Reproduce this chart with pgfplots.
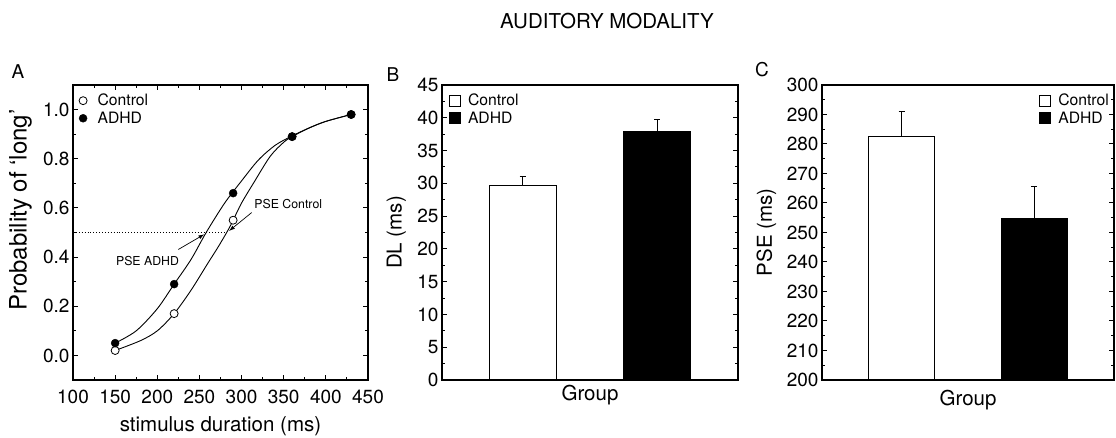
\documentclass[border=0pt]{standalone}
\usepackage{pgfplots}
\pgfplotsset{compat=1.18}
\usepackage{fontspec}
\setmainfont{TeX Gyre Heros}
\usetikzlibrary{arrows.meta}

\newcommand{\tickfont}{\fontsize{19}{21}\selectfont}
\newcommand{\labfont}{\fontsize{20.5}{23}\selectfont}
\newcommand{\legfont}{\fontsize{15.7}{18}\selectfont}
\newcommand{\annfont}{\fontsize{12.3}{14}\selectfont}

\pgfplotsset{
  common/.style={
    scale only axis,
    anchor=south west,
    height=295pt,
    axis line style={black, line width=1.2pt},
    tick style={black, line width=1pt},
    major tick length=5pt,
    minor tick length=3pt,
    tick align=inside,
    tick label style={font=\tickfont},
    /pgf/number format/assume math mode=true,
    label style={font=\labfont},
    legend cell align=left,
  },
  legcommon/.style={draw=none, fill=none, font=\legfont, row sep=1.5pt, inner sep=0pt,
    nodes={inner sep=1.5pt}, /tikz/every odd column/.append style={column sep=6pt}},
  barleg/.style={legend image code/.code={\draw[##1, line width=0.8pt] (0pt,-5.5pt) rectangle (11pt,5.5pt);}},
}

\begin{document}
\begin{tikzpicture}
\useasboundingbox (0pt,0pt) rectangle (1116pt,438pt);
\node[font=\labfont] at (607pt,417pt) {AUDITORY MODALITY};
\node[font=\tickfont] at (18pt,366pt) {A};
\node[font=\tickfont] at (393pt,363pt) {B};
\node[font=\tickfont] at (762pt,368pt) {C};

% ---------------- Panel A ----------------
\begin{axis}[common, name=pA, at={(73pt,58pt)}, width=295pt,
  xmin=100, xmax=450, ymin=-0.1, ymax=1.1,
  xtick={100,150,200,250,300,350,400,450}, minor x tick num=1,
  ytick={0,0.2,0.4,0.6,0.8,1.0}, minor y tick num=1,
  yticklabel style={/pgf/number format/.cd, fixed, fixed zerofill, precision=1},
  xticklabel style={anchor=base, yshift=-24pt},
  xlabel={stimulus duration (ms)},
  ylabel={Probability of `long'},
  xlabel style={at={(axis description cs:0.5,0)}, anchor=base, yshift=-51.7pt},
  ylabel style={at={(axis description cs:-0.157,0.576)}, anchor=base, font=\fontsize{24}{26}\selectfont},
  legend style={legcommon, at={(axis description cs:0.02,0.975)}, anchor=north west,
    /tikz/every odd column/.append style={column sep=9pt}},
  legend image code/.code={\draw[#1] plot coordinates {(4.5pt,0pt)};},
]
\addplot[black, dotted, line width=0.9pt, forget plot] coordinates {(100,0.5) (280,0.5)};
\addplot[black, line width=0.9pt, smooth, forget plot] coordinates {
(150,0.02) (180,0.06) (200,0.10) (220,0.17) (240,0.265) (260,0.375) (272,0.44) (284,0.51)
(290,0.55) (300,0.62) (314,0.70) (334,0.81) (350,0.867) (360,0.89) (380,0.925) (400,0.952) (430,0.98)};
\addplot[black, line width=0.9pt, smooth, forget plot] coordinates {
(150,0.05) (175,0.10) (200,0.19) (220,0.29) (240,0.39) (258,0.50) (280,0.62) (300,0.71)
(320,0.795) (340,0.855) (360,0.893) (380,0.925) (400,0.952) (430,0.98)};
\addplot[only marks, mark=*, mark size=4pt, mark options={fill=white, draw=black, line width=0.8pt}] coordinates {
(150,0.02) (220,0.17) (290,0.55) (360,0.89) (430,0.98)};
\addlegendentry{Control}
\addplot[only marks, mark=*, mark size=4pt, mark options={fill=black, draw=black}] coordinates {
(150,0.05) (220,0.29) (290,0.66) (360,0.89) (430,0.98)};
\addlegendentry{ADHD}
\draw[line width=0.7pt, -{Latex[length=6pt,width=4pt]}] (axis cs:225,0.431) -- (axis cs:256,0.493);
\draw[line width=0.7pt, -{Latex[length=6pt,width=4pt]}] (axis cs:312,0.581) -- (axis cs:285,0.506);
\node[font=\annfont] at (axis cs:188.4,0.384) {PSE ADHD};
\node[font=\annfont] at (axis cs:355.4,0.615) {PSE Control};
\end{axis}

% ---------------- Panel B ----------------
\begin{axis}[common, name=pB, at={(442pt,58pt)}, width=296pt,
  xmin=-0.6, xmax=1.6, ymin=0, ymax=45,
  xtick=\empty, ytick={0,5,...,45}, minor y tick num=1,
  xlabel={Group}, ylabel={DL (ms)},
  xlabel style={at={(axis description cs:0.5,0)}, anchor=base, yshift=-20.7pt},
  ylabel style={at={(axis description cs:-0.136,0.5)}, anchor=base},
  legend style={legcommon, at={(axis description cs:0.022,0.975)}, anchor=north west},
]
\addplot[ybar, bar width=0.5, bar shift=0pt, fill=white, draw=black, line width=0.9pt, barleg,
  error bars/.cd, y dir=plus, y explicit, error bar style={line width=0.8pt},
  error mark options={line width=0.8pt, mark size=3pt, rotate=90}]
  coordinates {(0,29.7) +- (0,1.3)};
\addlegendentry{Control}
\addplot[ybar, bar width=0.5, bar shift=0pt, fill=black, draw=black, line width=0.9pt, barleg,
  error bars/.cd, y dir=plus, y explicit, error bar style={line width=0.8pt},
  error mark options={line width=0.8pt, mark size=3pt, rotate=90}]
  coordinates {(1,37.85) +- (0,1.85)};
\addlegendentry{ADHD}
\end{axis}

% ---------------- Panel C ----------------
\begin{axis}[common, name=pC, at={(822pt,58pt)}, width=292pt,
  xmin=-0.6, xmax=1.6, ymin=200, ymax=300,
  xtick=\empty, ytick={200,210,...,300}, minor y tick num=1,
  xlabel={Group}, ylabel={PSE (ms)},
  xlabel style={at={(axis description cs:0.5,0)}, anchor=base, yshift=-26pt},
  ylabel style={at={(axis description cs:-0.172,0.5)}, anchor=base},
  legend style={legcommon, at={(axis description cs:0.988,0.975)}, anchor=north east},
]
\addplot[ybar, bar width=0.5, bar shift=0pt, fill=white, draw=black, line width=0.9pt, barleg,
  error bars/.cd, y dir=plus, y explicit, error bar style={line width=0.8pt},
  error mark options={line width=0.8pt, mark size=3pt, rotate=90}]
  coordinates {(0,282.4) +- (0,8.5)};
\addlegendentry{Control}
\addplot[ybar, bar width=0.5, bar shift=0pt, fill=black, draw=black, line width=0.9pt, barleg,
  error bars/.cd, y dir=plus, y explicit, error bar style={line width=0.8pt},
  error mark options={line width=0.8pt, mark size=3pt, rotate=90}]
  coordinates {(1,254.8) +- (0,10.9)};
\addlegendentry{ADHD}
\end{axis}

% axis frames (full box on every panel)
\foreach \p in {pA,pB,pC}{
  \draw[black, line width=1.2pt] (\p.south west) rectangle (\p.north east);
}
\end{tikzpicture}
\end{document}
